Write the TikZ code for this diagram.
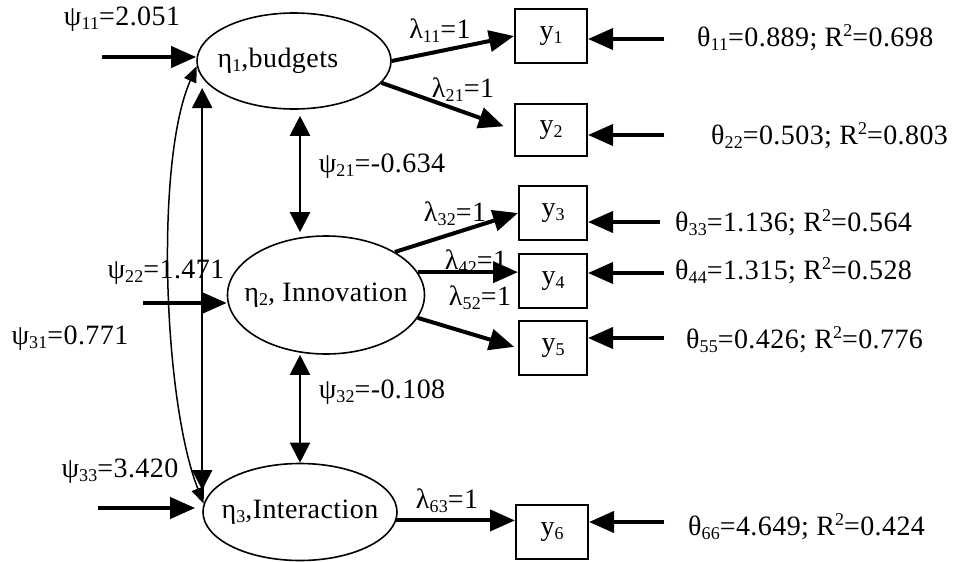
\documentclass[tikz,border=0pt]{standalone}
\usepackage{fontspec}
\setmainfont[LetterSpace=1.5]{Liberation Serif}
\usepackage{tikz}
\usetikzlibrary{arrows.meta,shapes.geometric}
\newcommand{\lsub}[1]{\raisebox{-0.3ex}{\fontsize{18}{20}\selectfont #1}}
\newcommand{\lsup}[1]{\raisebox{0.8ex}{\fontsize{18}{20}\selectfont #1}}

\begin{document}
\begin{tikzpicture}[x=1pt,y=-1pt,
  txt/.style={font=\fontsize{28}{32}\selectfont,inner sep=0pt},
  latent/.style={ellipse,draw,line width=1.6pt,inner sep=0pt,font=\fontsize{28}{32}\selectfont},
  obs/.style={rectangle,draw,line width=2pt,minimum height=54pt,inner sep=0pt,font=\fontsize{28}{32}\selectfont},
  heavy/.style={line width=4pt,-{Triangle[length=25pt,width=21pt]}},
  dbl/.style={line width=2.2pt,{Triangle[length=20pt,width=20pt]}-{Triangle[length=20pt,width=20pt]}},
  curvy/.style={line width=1.5pt,{Triangle[length=16pt,width=13pt]}-{Triangle[length=16pt,width=13pt]}}]
  \useasboundingbox (0,0) rectangle (954,562);
  % latent factors
  \node[latent,minimum width=194pt,minimum height=96pt] (e1) at (294,61) {\makebox[0pt]{\hspace*{-32pt}η\lsub{1},budgets}};
  \node[latent,minimum width=197pt,minimum height=118pt] (e2) at (326,295) {\makebox[0pt]{η\lsub{2}, Innovation}};
  \node[latent,minimum width=194pt,minimum height=97pt] (e3) at (300,512) {\makebox[0pt]{η\lsub{3},Interaction}};
  % indicators
  \node[obs,minimum width=72pt] (y1) at (551,36) {y\lsub{1}};
  \node[obs,minimum width=72pt,minimum height=52pt] (y2) at (551,130) {y\lsub{2}};
  \node[obs,minimum width=68pt] (y3) at (553,213) {y\lsub{3}};
  \node[obs,minimum width=68pt] (y4) at (553,281) {y\lsub{4}};
  \node[obs,minimum width=68pt] (y5) at (553,348) {y\lsub{5}};
  \node[obs,minimum width=72pt] (y6) at (552,532) {y\lsub{6}};
  % estimates
  \node[txt] (psi11) at (122,19) {ψ\lsub{11}=2.051};
  \node[txt] (psi22) at (166,272) {ψ\lsub{22}=1.471};
  \node[txt] (psi31) at (70,338) {ψ\lsub{31}=0.771};
  \node[txt] (psi33) at (120,471) {ψ\lsub{33}=3.420};
  \node[txt] (psi21) at (382,166) {ψ\lsub{21}=-0.634};
  \node[txt] (psi32) at (382,392) {ψ\lsub{32}=-0.108};
  \node[txt] (lam11) at (440,31) {λ\lsub{11}=1};
  \node[txt] (lam21) at (463,90) {λ\lsub{21}=1};
  \node[txt] (lam32) at (455,214) {λ\lsub{32}=1};
  \node[txt] (lam42) at (476,262) {λ\lsub{42}=1};
  \node[txt] (lam52) at (480,298) {λ\lsub{52}=1};
  \node[txt] (lam63) at (447,501) {λ\lsub{63}=1};
  \node[txt,anchor=west] (the11) at (697,38) {θ\lsub{11}=0.889; R\lsup{2}=0.698};
  \node[txt,anchor=west] (the22) at (711,136) {θ\lsub{22}=0.503; R\lsup{2}=0.803};
  \node[txt,anchor=west] (the33) at (675,223) {θ\lsub{33}=1.136; R\lsup{2}=0.564};
  \node[txt,anchor=west] (the44) at (675,271) {θ\lsub{44}=1.315; R\lsup{2}=0.528};
  \node[txt,anchor=west] (the55) at (686,340) {θ\lsub{55}=0.426; R\lsup{2}=0.776};
  \node[txt,anchor=west] (the66) at (688,527) {θ\lsub{66}=4.649; R\lsup{2}=0.424};
  % free ends of the error arrows
  \coordinate (p11) at (102,57);
  \coordinate (p22) at (143,303);
  \coordinate (p33) at (98,508);
  \coordinate (t11) at (664,39);
  \coordinate (t22) at (664,135);
  \coordinate (t33) at (660,222);
  \coordinate (t44) at (664,273);
  \coordinate (t55) at (664,338);
  \coordinate (t66) at (664,522);
  \draw[heavy] (p11) -- (p11 -| e1.west);
  \draw[heavy] (p22) -- (p22 -| e2.west);
  \draw[heavy,shorten >=7pt] (p33) -- (p33 -| e3.west);
  \draw[heavy] (t11) -- (t11 -| y1.east);
  \draw[heavy] (t22) -- (t22 -| y2.east);
  \draw[heavy] (t33) -- (t33 -| y3.east);
  \draw[heavy] (t44) -- (t44 -| y4.east);
  \draw[heavy] (t55) -- (t55 -| y5.east);
  \draw[heavy] (t66) -- (t66 -| y6.east);
  % loadings
  \draw[heavy] (e1.east) -- (y1.west);
  \draw[heavy,shorten >=11pt] (e1.-14) -- (y2.west);
  \draw[heavy] (e2.32) -- (y3.west);
  \draw[heavy] (e2.14) -- (e2.14 -| y4.west);
  \draw[heavy,shorten >=4pt] (e2.-14) -- (y5.west);
  \draw[heavy] (e3.-5) -- (e3.-5 -| y6.west);
  % covariances
  \coordinate (a21) at ([xshift=6pt]e1.south);
  \coordinate (a32) at ([xshift=-26pt]e2.south);
  \draw[dbl,shorten <=6pt,shorten >=3pt] (a21) -- (a21 |- e2.north);
  \draw[dbl] (a32) -- (a32 |- e3.north);
  \draw[dbl,shorten <=27pt,shorten >=22pt] (e3.west |- e1.west) -- (e3.west);
  \draw[curvy] (e1.183) .. controls (155,160) and (163,400) .. (e3.175);
\end{tikzpicture}
\end{document}
